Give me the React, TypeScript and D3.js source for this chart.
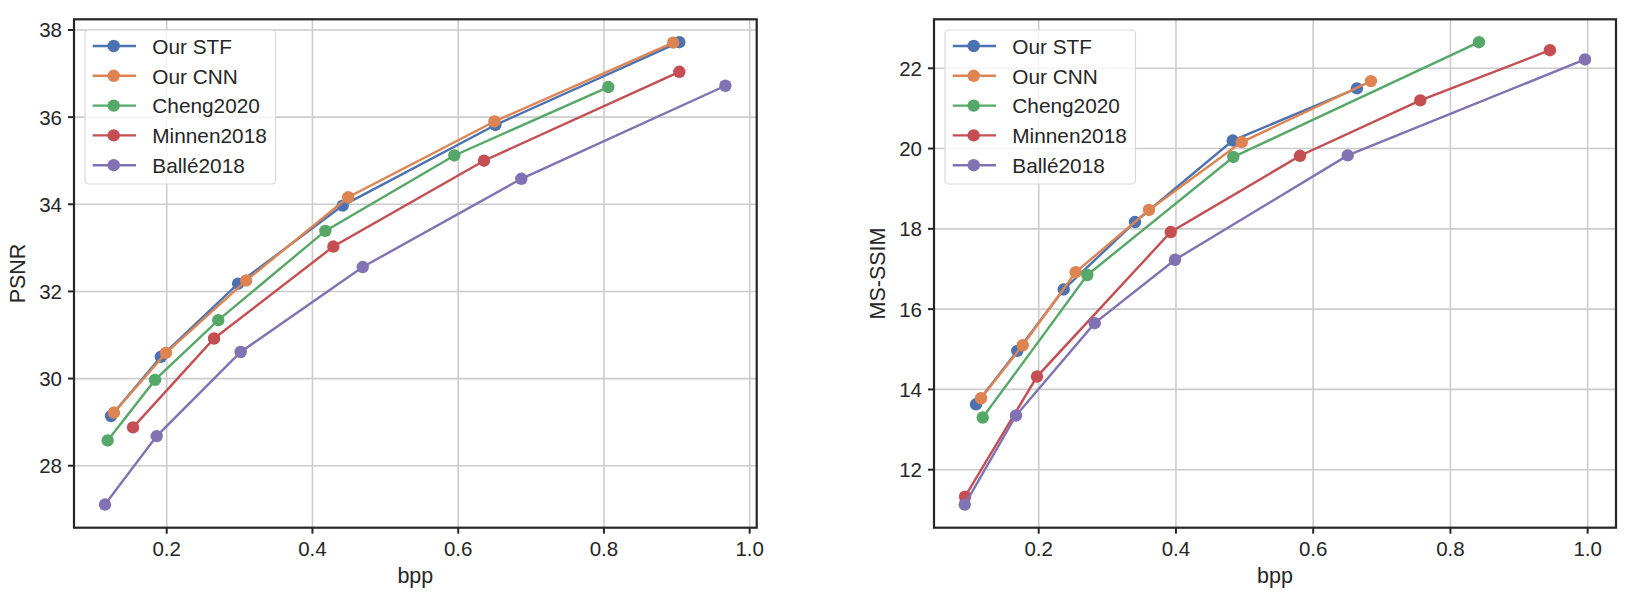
import React from "react";
import * as d3 from "d3";

const seriesNames = ["Our STF", "Our CNN", "Cheng2020", "Minnen2018", "Ballé2018"];
const colors = ["#4C72B0", "#DD8452", "#55A868", "#C44E52", "#8172B3"];

// PSNR panel
const psnrSTF_bpp = [0.1236, 0.192, 0.298, 0.4415, 0.651, 0.9034];
const psnrSTF_val = [29.14, 30.5, 32.18, 33.97, 35.82, 37.72];
const psnrCNN_bpp = [0.1277, 0.199, 0.309, 0.449, 0.6496, 0.895];
const psnrCNN_val = [29.22, 30.59, 32.25, 34.16, 35.9, 37.71];
const psnrCheng_bpp = [0.119, 0.184, 0.2708, 0.4177, 0.5947, 0.806];
const psnrCheng_val = [28.58, 29.97, 31.34, 33.39, 35.12, 36.69];
const psnrMinnen_bpp = [0.1538, 0.265, 0.4287, 0.6354, 0.9034];
const psnrMinnen_val = [28.88, 30.92, 33.03, 35.0, 37.04];
const psnrBalle_bpp = [0.1153, 0.1863, 0.3015, 0.469, 0.6866, 0.9666];
const psnrBalle_val = [27.11, 28.68, 30.61, 32.56, 34.585, 36.72];

// MS-SSIM panel
const ssimSTF_bpp = [0.1086, 0.1688, 0.2364, 0.3403, 0.4827, 0.6638];
const ssimSTF_val = [13.63, 14.96, 16.49, 18.17, 20.2, 21.5];
const ssimCNN_bpp = [0.1159, 0.1767, 0.2539, 0.3607, 0.4958, 0.6842];
const ssimCNN_val = [13.78, 15.1, 16.92, 18.47, 20.16, 21.68];
const ssimCheng_bpp = [0.1184, 0.2708, 0.4836, 0.8416];
const ssimCheng_val = [13.3, 16.85, 19.79, 22.65];
const ssimMinnen_bpp = [0.0926, 0.1975, 0.3924, 0.5808, 0.7561, 0.945];
const ssimMinnen_val = [11.33, 14.32, 17.92, 19.82, 21.2, 22.45];
const ssimBalle_bpp = [0.0922, 0.1669, 0.2816, 0.3986, 0.6503, 0.9961];
const ssimBalle_val = [11.13, 13.35, 15.65, 17.23, 19.83, 22.22];

const xTicks = [0.2, 0.4, 0.6, 0.8, 1.0];
const psnrTicks = [28, 30, 32, 34, 36, 38];
const ssimTicks = [12, 14, 16, 18, 20, 22];

const zip = (xs: number[], ys: number[]) => xs.map((x, i) => [x, ys[i]] as [number, number]);

const psnrSeries = [
  zip(psnrSTF_bpp, psnrSTF_val),
  zip(psnrCNN_bpp, psnrCNN_val),
  zip(psnrCheng_bpp, psnrCheng_val),
  zip(psnrMinnen_bpp, psnrMinnen_val),
  zip(psnrBalle_bpp, psnrBalle_val),
];
const ssimSeries = [
  zip(ssimSTF_bpp, ssimSTF_val),
  zip(ssimCNN_bpp, ssimCNN_val),
  zip(ssimCheng_bpp, ssimCheng_val),
  zip(ssimMinnen_bpp, ssimMinnen_val),
  zip(ssimBalle_bpp, ssimBalle_val),
];

const FONT = "'Liberation Sans', Arial, sans-serif";
const TXT = "#262626";

type PanelProps = {
  left: number; right: number; top: number; bottom: number;
  xDomain: [number, number]; yDomain: [number, number];
  yTicks: number[]; series: [number, number][][]; yLabel: string; yLabelX: number;
};

function Panel(p: PanelProps) {
  const x = d3.scaleLinear().domain(p.xDomain).range([p.left, p.right]);
  const y = d3.scaleLinear().domain(p.yDomain).range([p.bottom, p.top]);
  const line = d3.line<[number, number]>().x(d => x(d[0])).y(d => y(d[1]));
  const lgX = p.left + 11;
  const lgY = 30;
  return (
    <g fontFamily={FONT} fill={TXT}>
      {xTicks.map(t => (
        <line key={"gx" + t} x1={x(t)} x2={x(t)} y1={p.top} y2={p.bottom} stroke="#cccccc" strokeWidth={1.6} />
      ))}
      {p.yTicks.map(t => (
        <line key={"gy" + t} x1={p.left} x2={p.right} y1={y(t)} y2={y(t)} stroke="#cccccc" strokeWidth={1.6} />
      ))}
      {p.series.map((s, i) => (
        <g key={"s" + i}>
          <path d={line(s) || ""} fill="none" stroke={colors[i]} strokeWidth={2.4} />
          {s.map((d, j) => (
            <circle key={j} cx={x(d[0])} cy={y(d[1])} r={6.2} fill={colors[i]} />
          ))}
        </g>
      ))}
      <rect x={p.left} y={p.top} width={p.right - p.left} height={p.bottom - p.top} fill="none" stroke="#262626" strokeWidth={2.2} />
      {xTicks.map(t => (
        <g key={"xt" + t}>
          <line x1={x(t)} x2={x(t)} y1={p.bottom} y2={p.bottom + 6} stroke="#262626" strokeWidth={2} />
          <text x={x(t)} y={555.5} textAnchor="middle" fontSize={20.5}>{d3.format(".1f")(t)}</text>
        </g>
      ))}
      {p.yTicks.map(t => (
        <g key={"yt" + t}>
          <line x1={p.left - 6} x2={p.left} y1={y(t)} y2={y(t)} stroke="#262626" strokeWidth={2} />
          <text x={p.left - 12} y={y(t) + 7.5} textAnchor="end" fontSize={20.5}>{t}</text>
        </g>
      ))}
      <text x={(p.left + p.right) / 2} y={583} textAnchor="middle" fontSize={21.5}>bpp</text>
      <text transform={`translate(${p.yLabelX},${(p.top + p.bottom) / 2}) rotate(-90)`} textAnchor="middle" fontSize={21.5}>{p.yLabel}</text>
      <rect x={lgX} y={lgY} width={190.5} height={154} rx={4} fill="white" fillOpacity={0.8} stroke="#d9d9d9" strokeWidth={1.2} />
      {seriesNames.map((n, i) => {
        const cy = 46 + i * 29.8;
        return (
          <g key={"lg" + i}>
            <line x1={lgX + 7.7} x2={lgX + 51} y1={cy} y2={cy} stroke={colors[i]} strokeWidth={2.4} />
            <circle cx={lgX + 28.7} cy={cy} r={6.2} fill={colors[i]} />
            <text x={lgX + 67.3} y={cy + 7.8} fontSize={20.8}>{n}</text>
          </g>
        );
      })}
    </g>
  );
}

export default function App() {
  return (
    <div style={{ position: "absolute", left: 0, top: 0, background: "white" }}>
      <svg width={1626} height={599} style={{ display: "block" }}>
        <rect width={1626} height={599} fill="white" />
        <Panel left={74} right={756.7} top={19.3} bottom={527.7}
          xDomain={[0.0728, 1.0096]} yDomain={[26.578, 38.245]}
          yTicks={psnrTicks} series={psnrSeries} yLabel="PSNR" yLabelX={25} />
        <Panel left={934} right={1616} top={19.3} bottom={527.7}
          xDomain={[0.0474, 1.0413]} yDomain={[10.555, 23.22]}
          yTicks={ssimTicks} series={ssimSeries} yLabel="MS-SSIM" yLabelX={885} />
      </svg>
    </div>
  );
}
